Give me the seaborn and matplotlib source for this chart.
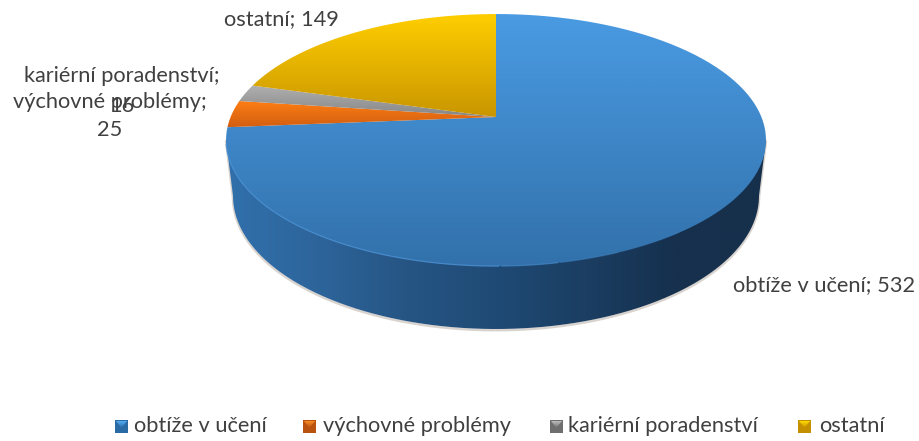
import numpy as np
import matplotlib
matplotlib.use("Agg")
import matplotlib.pyplot as plt
import seaborn as sns
from matplotlib.path import Path
from matplotlib.patches import PathPatch

categories = ["obtíže v učení", "výchovné problémy", "kariérní poradenství", "ostatní"]
values = [532, 25, 16, 149]

# gradient (top, bottom) of each slice
slice_colors = [("#4A9BE3", "#3271AB"), ("#FF7F14", "#D25E10"), ("#B0B0B0", "#868686"), ("#FFCE00", "#C99600")]
wall_colors = ["#3170AC", "#2D659B", "#265584", "#1F4A75", "#1B3E62", "#16304E", "#16304C"]
legend_colors = [("#55AEF5", "#2A6BA5"), ("#FB8C24", "#B9530F"), ("#BDBDBD", "#6F6F6F"), ("#FFDC00", "#C49000")]

sns.set_theme(style="white")
plt.rcParams["font.family"] = ["Lato", "DejaVu Sans"]

CX, CY = 496, 117
A, B, K = 265.4, 121.8, 0.183
# bottom outline of the disc
LOW_Y, LOW_A, LOW_B = 196, 263, 133
TEXT = "#404040"


def project(angle):
    # clockwise from the top, circle seen in perspective
    u, v = np.sin(angle), np.cos(angle)
    w = 1 + K * v
    return CX + A * u / w, CY - B * v / w


def gradient(ax, colors, extent, clip, horizontal=False):
    pal = np.array(sns.blend_palette(list(colors), 256))[:, :3]
    img = pal[np.newaxis, :, :] if horizontal else pal[:, np.newaxis, :]
    patch = PathPatch(clip, transform=ax.transData, fc="none", ec="none")
    ax.add_patch(patch)
    im = ax.imshow(img, extent=extent, origin="upper", aspect="auto", interpolation="bilinear", zorder=2)
    im.set_clip_path(patch)


fig = plt.figure(figsize=(9.2, 4.41), dpi=100)
ax = fig.add_axes([0, 0, 1, 1])

# side wall + soft shadow
t = np.linspace(0, 2 * np.pi, 721)
ex, ey = project(t)
left = np.argmin(ex)
right = np.argmax(ex)
s = np.linspace(np.pi, 0, 400)
low_x = CX + LOW_A * np.cos(s)
low_y = LOW_Y + LOW_B * np.sin(s)
outline = np.column_stack([np.r_[ex[left], low_x, ex[right]], np.r_[ey[left], low_y, ey[right]]])
ax.plot(outline[:, 0], outline[:, 1] + 1.2, color="#B8AFA6", lw=1.8, alpha=0.55, zorder=1.5)
gradient(ax, wall_colors, (ex.min(), ex.max(), 340, 100), Path(outline), horizontal=True)

# top face from the values
edges = np.cumsum([0] + values) / sum(values) * 2 * np.pi
for i in range(len(values)):
    ang = np.linspace(edges[i], edges[i + 1], 300)
    px, py = project(ang)
    poly = np.vstack([[CX, CY], np.column_stack([px, py]), [CX, CY]])
    ext = (poly[:, 0].min(), poly[:, 0].max(), poly[:, 1].max(), poly[:, 1].min())
    gradient(ax, slice_colors[i], ext, Path(poly))

# light rim on the front edge of the top face, fading out to the right
rim = np.column_stack([ex, ey])
front = rim[rim[:, 1] > ey[left] + 4]
front = front[np.argsort(front[:, 0])]
for x0, x1, alpha in [(0, 500, 0.8), (500, 560, 0.55), (560, 620, 0.3), (620, 680, 0.12)]:
    seg = front[(front[:, 0] >= x0) & (front[:, 0] <= x1)]
    ax.plot(seg[:, 0], seg[:, 1], color="#4E93D5", lw=0.9, alpha=alpha, zorder=3)

# data labels, with the original overlap
lab_size = 15.7
ax.text(281.5, 19, f"{categories[3]}; {values[3]}", ha="center", va="center", fontsize=lab_size, color=TEXT, zorder=5)
ax.text(122, 76, f"{categories[2]};", ha="center", va="center", fontsize=lab_size, color=TEXT, zorder=5)
ax.text(122, 106, f"{values[2]}", ha="center", va="center", fontsize=lab_size, color=TEXT, zorder=5)
ax.text(110, 102, f"{categories[1]};", ha="center", va="center", fontsize=lab_size, color=TEXT, zorder=5)
ax.text(110, 130, f"{values[1]}", ha="center", va="center", fontsize=lab_size, color=TEXT, zorder=5)
ax.text(824.5, 285, f"{categories[0]}; {values[0]}", ha="center", va="center", fontsize=lab_size, color=TEXT, zorder=5)

# legend
legend_x = [115, 303, 550, 798]
legend_text_x = [134, 323, 568, 819]
for i, name in enumerate(categories):
    x0 = legend_x[i]
    sq = Path([(x0, 420), (x0 + 13, 420), (x0 + 13, 433), (x0, 433), (x0, 420)])
    gradient(ax, (legend_colors[i][1], legend_colors[i][1]), (x0, x0 + 13, 433, 420), sq)
    tri = Path([(x0 + 1, 421), (x0 + 12, 421), (x0 + 6.5, 428), (x0 + 1, 421)])
    gradient(ax, legend_colors[i], (x0, x0 + 13, 428, 421), tri)
    ax.text(legend_text_x[i], 426, name, ha="left", va="center", fontsize=lab_size, color=TEXT, zorder=5)

ax.set_xlim(0, 920)
ax.set_ylim(441, 0)
ax.axis("off")
fig.savefig("out.png", dpi=100, facecolor="white")
plt.close(fig)
